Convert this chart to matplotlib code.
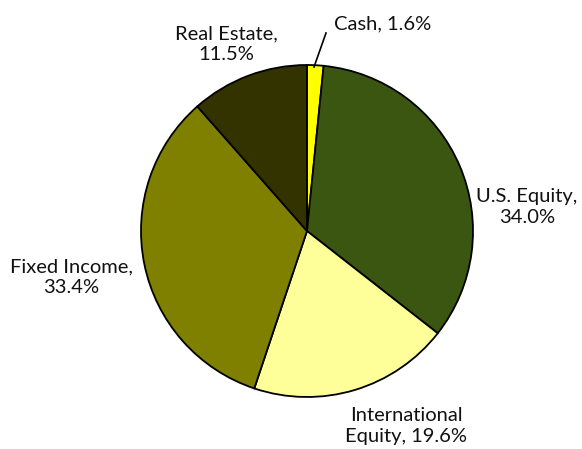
import matplotlib.pyplot as plt

labels = ["Cash", "U.S. Equity", "International\nEquity", "Fixed Income", "Real Estate"]
shares = [1.6, 34.0, 19.6, 33.4, 11.5]
colors = ["#ffff00", "#3b5610", "#ffff99", "#808000", "#333300"]

# label anchor points (pixels, origin top-left)
label_pos = [(383, 24), (527, 207), (406, 426), (71, 277), (226, 44)]
label_text = ["Cash, 1.6%", "U.S. Equity,\n34.0%", "International\nEquity, 19.6%",
              "Fixed Income,\n33.4%", "Real Estate,\n11.5%"]

W, H = 582, 449
fig = plt.figure(figsize=(W / 100, H / 100), dpi=100)
ax = fig.add_axes([0, 0, 1, 1])

cx, cy, r = 307, H - 231, 166
ax.pie(shares, colors=colors, startangle=90, counterclock=False,
       center=(cx, cy), radius=r, frame=True,
       wedgeprops=dict(edgecolor="black", linewidth=1.3))
ax.set_xlim(0, W)
ax.set_ylim(0, H)
ax.set_aspect("equal")
ax.axis("off")

for (x, y), t in zip(label_pos, label_text):
    ax.text(x, H - y, t, ha="center", va="center", fontsize=14.5,
            family="Lato", linespacing=1.25, color="#111111")

# leader line for the cash slice
ax.plot([314, 326], [H - 67, H - 33], color="black", lw=1.2)

fig.savefig("out.png", dpi=100, facecolor="white")
